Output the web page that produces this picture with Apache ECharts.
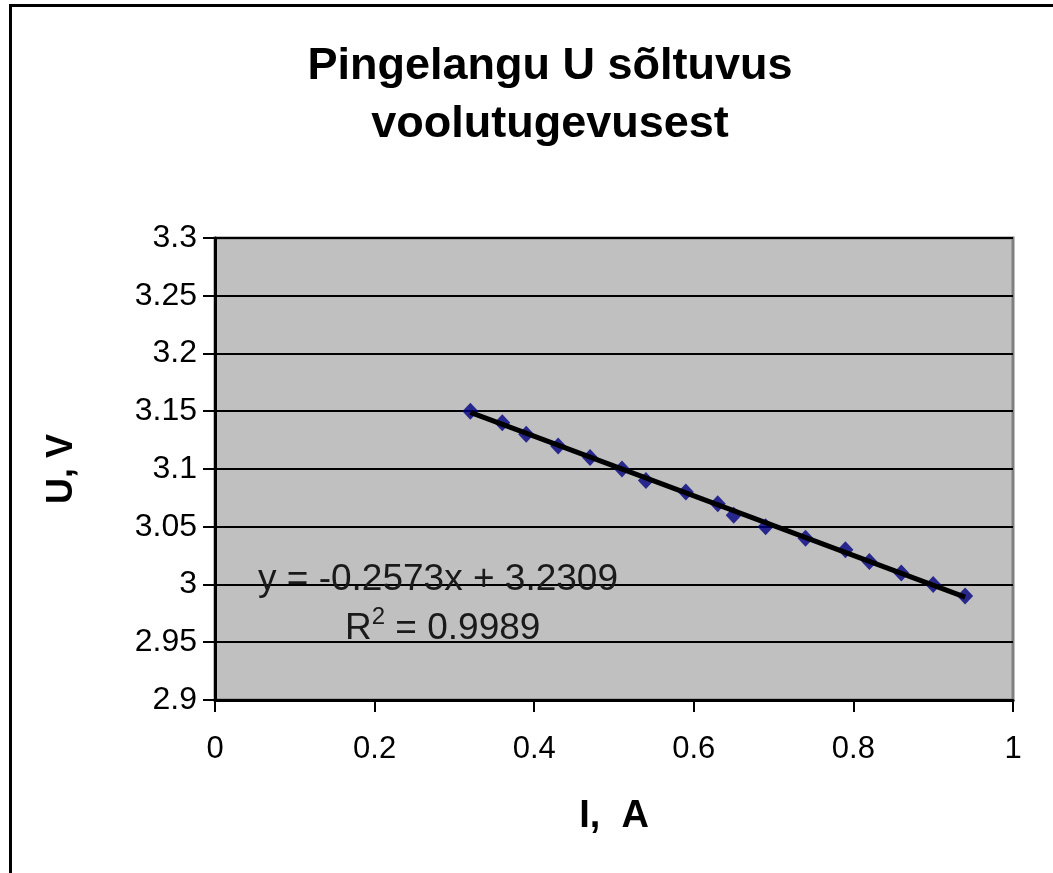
<!DOCTYPE html>
<html lang="et">
<head>
    <meta charset="UTF-8">
    <title>Pingelangu U sõltuvus voolutugevusest</title>
    <script src="https://cdn.jsdelivr.net/npm/echarts@6/dist/echarts.min.js"></script>
    <style>
        html, body { margin: 0; padding: 0; background: #fff; }
        #chart { width: 1053px; height: 873px; }
    </style>
</head>
<body>
<div id="chart"></div>
<script>
    // mõõdetud andmed
    var currentI = [0.32, 0.36, 0.39, 0.43, 0.47, 0.51, 0.54, 0.59, 0.63, 0.65, 0.69, 0.74, 0.79, 0.82, 0.86, 0.90, 0.94];
    var voltageU = [3.15, 3.14, 3.13, 3.12, 3.11, 3.10, 3.09, 3.08, 3.07, 3.06, 3.05, 3.04, 3.03, 3.02, 3.01, 3.00, 2.99];
    // trendijoone otspunktid (loetud pildilt)
    var trendI = [0.32, 0.94];
    var trendU = [3.149, 2.989];
    var equationText = 'y = -0.2573x + 3.2309';
    var r2Value = '0.9989';

    var font = '"Liberation Sans", Arial, sans-serif';

    var points = currentI.map(function (x, i) { return [x, voltageU[i]]; });
    var trend = trendI.map(function (x, i) { return [x, trendU[i]]; });

    var option = {
        animation: false,
        title: {
            text: 'Pingelangu U sõltuvus\nvoolutugevusest',
            left: 545,
            textAlign: 'center',
            top: 33,
            textStyle: {
                fontFamily: font,
                fontWeight: 'bold',
                fontSize: 45,
                lineHeight: 58,
                color: '#000'
            }
        },
        grid: {
            left: 215,
            right: 40,
            top: 238,
            bottom: 173,
            show: true,
            backgroundColor: '#c0c0c0',
            borderColor: '#808080',
            borderWidth: 3
        },
        xAxis: {
            type: 'value',
            min: 0,
            max: 1,
            interval: 0.2,
            name: 'I,  A',
            nameLocation: 'middle',
            nameGap: 98,
            nameTextStyle: { fontFamily: font, fontWeight: 'bold', fontSize: 38, color: '#000' },
            axisLine: { show: true, onZero: false, lineStyle: { color: '#000', width: 3 } },
            axisTick: { show: true, inside: false, length: 12, lineStyle: { color: '#000', width: 2 } },
            axisLabel: { fontFamily: font, fontSize: 31, color: '#000', margin: 34 },
            splitLine: { show: false }
        },
        yAxis: {
            type: 'value',
            min: 2.9,
            max: 3.3,
            interval: 0.05,
            name: 'U, V',
            nameLocation: 'middle',
            nameGap: 135,
            nameRotate: 90,
            nameTextStyle: { fontFamily: font, fontWeight: 'bold', fontSize: 36, color: '#000' },
            axisLine: { show: true, onZero: false, lineStyle: { color: '#000', width: 3 } },
            axisTick: { show: true, inside: false, length: 12, lineStyle: { color: '#000', width: 2 } },
            axisLabel: {
                fontFamily: font, fontSize: 32, color: '#000', margin: 18,
                formatter: function (v) { return String(Math.round(v * 100) / 100); }
            },
            splitLine: { show: true, lineStyle: { color: '#000', width: 2, type: 'solid' } }
        },
        graphic: [
            { type: 'rect', shape: { x: 9, y: 4, width: 3, height: 869 }, style: { fill: '#000' } },
            { type: 'rect', shape: { x: 9, y: 4, width: 1044, height: 3 }, style: { fill: '#000' } },
            {
                type: 'text', left: 258, top: 561, z: 100,
                style: { text: equationText, font: '37px ' + font, fill: '#1a1a1a' }
            },
            {
                type: 'text', left: 345, top: 605, z: 100,
                style: {
                    text: '{r|R}{s|2}{r| = ' + r2Value + '}',
                    rich: {
                        r: { font: '37px ' + font, fill: '#1a1a1a', verticalAlign: 'bottom' },
                        s: { font: '24px ' + font, fill: '#1a1a1a', verticalAlign: 'top', padding: [0, 0, 18, 0] }
                    }
                }
            }
        ],
        series: [{
            name: 'trend',
            type: 'line',
            data: trend,
            symbol: 'none',
            lineStyle: { color: '#000', width: 5 },
            z: 3
        }, {
            name: 'U',
            type: 'scatter',
            data: points,
            symbol: 'diamond',
            symbolSize: [16, 17],
            itemStyle: { color: '#000080' },
            z: 2
        }]
    };

    var myChart = echarts.init(document.getElementById('chart'));
    myChart.setOption(option);
</script>
</body>
</html>
